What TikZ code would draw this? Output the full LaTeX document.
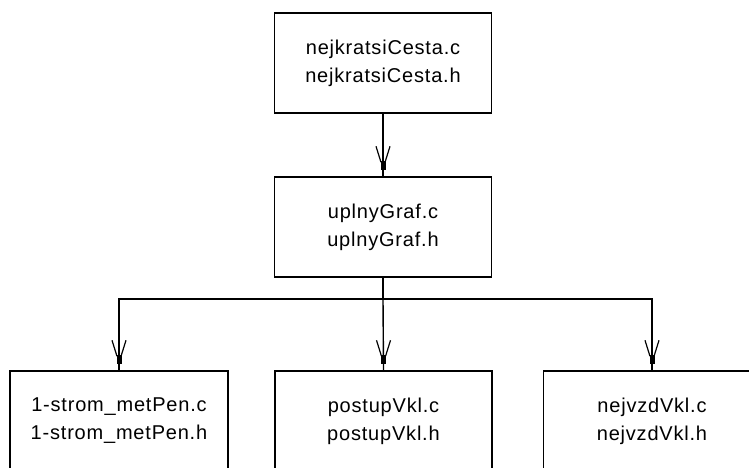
\documentclass[tikz,border=0pt]{standalone}
\usepackage{fontspec}
\setmainfont[LetterSpace=4]{Liberation Sans}
\tikzset{
  filebox/.style={draw=black, line width=1.4pt, minimum width=217pt, minimum height=100pt,
    align=center, inner sep=0pt, font=\fontsize{20}{28}\selectfont},
  conn/.style={line width=1.4pt, black},
}
\newcommand{\vheadat}[1]{%
  \fill[black] ($(#1)+(-2.5pt,6pt)$) rectangle ($(#1)+(2.5pt,15pt)$);
  \draw[line width=1.2pt] ($(#1)+(-7pt,30pt)$) -- ($(#1)+(-2pt,14pt)$);
  \draw[line width=1.2pt] ($(#1)+(7pt,30pt)$) -- ($(#1)+(2pt,14pt)$);
}
\usetikzlibrary{calc}
\begin{document}
\begin{tikzpicture}[x=1pt,y=-1pt]
\useasboundingbox (0,0) rectangle (749,468);
\clip (0,0) rectangle (749,468);
\fill[white] (0,0) rectangle (749,468);
\node[filebox] (top) at (383,63) {nejkratsiCesta.c\\nejkratsiCesta.h};
\node[filebox] (mid) at (383,227) {uplnyGraf.c\\uplnyGraf.h};
\node[filebox, minimum width=218pt] (l) at (119,421) {1-strom\_metPen.c\\1-strom\_metPen.h};
\node[filebox] (m) at (383.5,421) {postupVkl.c\\postupVkl.h};
\node[filebox] (r) at (652,421) {nejvzdVkl.c\\nejvzdVkl.h};
\coordinate (bus) at (383,299);
\draw[conn] (top.south) -- (mid.north);
\draw[conn] (mid.south) -- (bus) -| (l.north);
\draw[conn] (bus) -| (r.north);
\draw[conn] (bus) -- (m.north);
\vheadat{mid.north}
\vheadat{l.north}
\vheadat{m.north}
\vheadat{r.north}
\end{tikzpicture}
\end{document}
